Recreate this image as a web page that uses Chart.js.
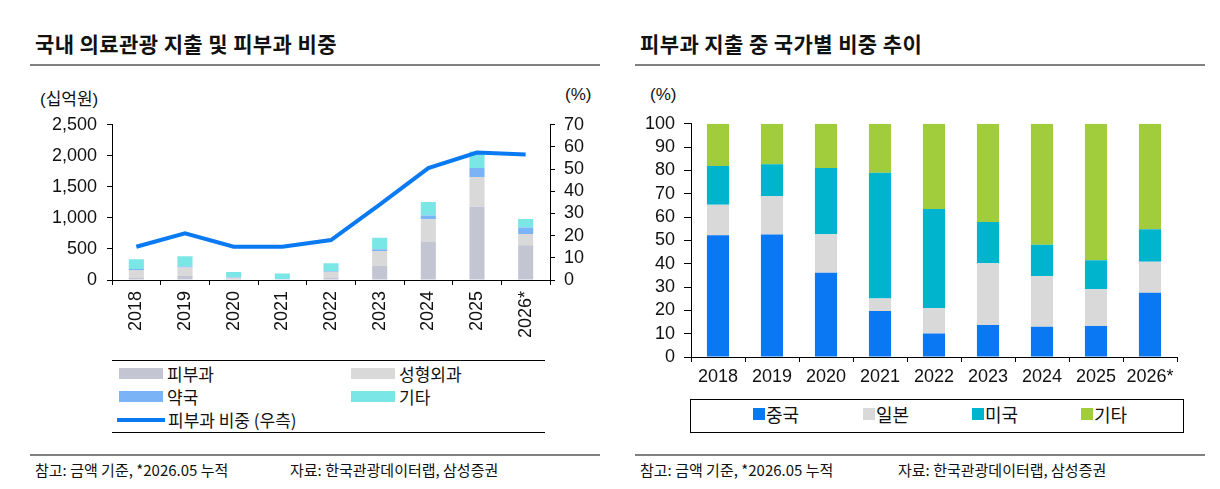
<!DOCTYPE html>
<html>
<head>
<meta charset="utf-8">
<script src="https://cdn.jsdelivr.net/npm/chart.js@4.4.1/dist/chart.umd.min.js"></script>
<style>
  body { margin: 0; background: #fff; width: 1220px; height: 489px; position: relative; overflow: hidden;
         font-family: "Noto Sans CJK KR", "Liberation Sans", sans-serif; color: #111; }
  .abs { position: absolute; }
  .title { font-size: 21px; font-weight: bold; top: 28px; white-space: nowrap; letter-spacing: 0.4px; }
  .rule { height: 2px; background: #808080; }
  .note { font-size: 15px; top: 459px; white-space: nowrap; }
  .unit { font-family: "Liberation Sans", "Noto Sans CJK KR", sans-serif; font-size: 17px; top: 85px; }
  .lg { font-size: 17px; display: flex; align-items: center; white-space: nowrap; }
  .lgbox { position: absolute; }
</style>
</head>
<body>
<div class="abs title" style="left:35px">국내 의료관광 지출 및 피부과 비중</div>
<div class="abs title" style="left:640px">피부과 지출 중 국가별 비중 추이</div>
<div class="abs rule" style="left:30px;top:64px;width:570px"></div>
<div class="abs rule" style="left:635px;top:64px;width:570px"></div>

<div class="abs unit" style="left:40px">(십억원)</div>
<div class="abs unit" style="left:565px">(%)</div>
<div class="abs unit" style="left:650px">(%)</div>

<div class="abs" style="left:20px;top:104px;width:590px;height:251px"><canvas id="left"></canvas></div>
<div class="abs" style="left:630px;top:104px;width:590px;height:286px"><canvas id="right"></canvas></div>

<div id="legendLeft" class="abs" style="left:112px;top:360px;width:433px;height:71px;border-top:1.5px solid #000;border-bottom:1.5px solid #000"></div>
<div id="legendRight" class="abs" style="left:690px;top:399px;width:492px;height:32px;border:1.5px solid #000"></div>

<div class="abs rule" style="left:30px;top:454px;width:570px"></div>
<div class="abs rule" style="left:635px;top:454px;width:570px"></div>
<div class="abs note" style="left:35px">참고: 금액 기준, *2026.05 누적</div>
<div class="abs note" style="left:290px">자료: 한국관광데이터랩, 삼성증권</div>
<div class="abs note" style="left:640px">참고: 금액 기준, *2026.05 누적</div>
<div class="abs note" style="left:898px">자료: 한국관광데이터랩, 삼성증권</div>

<script>
// 카테고리
const years = ['2018', '2019', '2020', '2021', '2022', '2023', '2024', '2025', '2026*'];

// 왼쪽: 국내 의료관광 지출 (십억원)
const derm = [32, 64, 15, 8, 32, 229, 622, 1181, 559];
const plastic = [128, 138, 22, 5, 101, 239, 357, 479, 180];
const pharmacy = [16, 16, 8, 3, 11, 27, 58, 143, 107];
const etcSpend = [159, 165, 83, 90, 127, 186, 219, 266, 138];
const dermShare = [15, 21, 15, 15, 18, 34, 50.5, 57.5, 56.6];
const leftTicks = [0, 500, 1000, 1500, 2000, 2500];
const shareTicks = [0, 10, 20, 30, 40, 50, 60, 70];

// 오른쪽: 피부과 지출 중 국가별 비중 (%)
const china = [52.2, 52.5, 36.1, 19.7, 10.1, 13.7, 13.0, 13.3, 27.5];
const japan = [13.1, 16.5, 16.5, 5.4, 10.9, 26.5, 21.7, 15.8, 13.3];
const usa = [16.6, 13.7, 28.4, 53.9, 42.5, 17.7, 13.4, 12.4, 14.0];
const etcShare = [18.1, 17.3, 19.0, 21.0, 36.5, 42.1, 51.9, 58.5, 45.2];
const pctTicks = [0, 10, 20, 30, 40, 50, 60, 70, 80, 90, 100];

const numFont = { family: '"Liberation Sans", Arial, sans-serif', size: 18 };
const axisGrid = (len) => ({ drawOnChartArea: false, tickLength: len, color: '#000', lineWidth: 1 });
const fixTicks = (list) => (scale) => { scale.ticks = list.map(v => ({ value: v })); };

const leftChart = new Chart(document.getElementById('left'), {
    type: 'bar',
    data: {
        labels: years,
        datasets: [
            { type: 'line', label: '피부과 비중 (우측)', data: dermShare, yAxisID: 'y1', borderColor: '#0a7af2',
              backgroundColor: '#0a7af2', borderWidth: 4, pointRadius: 0, tension: 0, order: 0 },
            { label: '피부과', data: derm, backgroundColor: '#c3c5d3', stack: 's', order: 1 },
            { label: '성형외과', data: plastic, backgroundColor: '#d9d9d9', stack: 's', order: 1 },
            { label: '약국', data: pharmacy, backgroundColor: '#7bb4f6', stack: 's', order: 1 },
            { label: '기타', data: etcSpend, backgroundColor: '#7ae6e6', stack: 's', order: 1 }
        ]
    },
    options: {
        responsive: true,
        maintainAspectRatio: false,
        animation: false,
        layout: { padding: { top: 7, left: 0, right: 0, bottom: 0 } },
        datasets: { bar: { barPercentage: 0.31, categoryPercentage: 1 } },
        plugins: { legend: { display: false }, tooltip: { enabled: false } },
        scales: {
            x: {
                stacked: true,
                grid: axisGrid(5),
                border: { color: '#000' },
                ticks: { font: numFont, color: '#111', minRotation: 90, maxRotation: 90, padding: 6 },
                afterFit: (s) => { s.height = 75; }
            },
            y: {
                stacked: true, min: 0, max: 2500,
                grid: axisGrid(5),
                border: { color: '#000' },
                ticks: { font: numFont, color: '#111', padding: 10, autoSkip: false,
                         callback: (v) => v.toLocaleString('en-US') },
                afterBuildTicks: fixTicks(leftTicks),
                afterFit: (s) => { s.width = 92; }
            },
            y1: {
                position: 'right', min: 0, max: 70,
                grid: axisGrid(5),
                border: { color: '#000' },
                ticks: { font: numFont, color: '#111', padding: 9, autoSkip: false },
                afterBuildTicks: fixTicks(shareTicks),
                afterFit: (s) => { s.width = 60; }
            }
        }
    }
});

const rightChart = new Chart(document.getElementById('right'), {
    type: 'bar',
    data: {
        labels: years,
        datasets: [
            { label: '중국', data: china, backgroundColor: '#0a78f2' },
            { label: '일본', data: japan, backgroundColor: '#d9d9d9' },
            { label: '미국', data: usa, backgroundColor: '#00b4cd' },
            { label: '기타', data: etcShare, backgroundColor: '#a1cd3c' }
        ]
    },
    options: {
        responsive: true,
        maintainAspectRatio: false,
        animation: false,
        layout: { padding: { top: 7, left: 0, right: 43, bottom: 0 } },
        datasets: { bar: { barPercentage: 0.41, categoryPercentage: 1 } },
        plugins: { legend: { display: false }, tooltip: { enabled: false } },
        scales: {
            x: {
                stacked: true,
                grid: axisGrid(5),
                border: { color: '#000' },
                ticks: { font: numFont, color: '#111', maxRotation: 0, padding: 4 },
                afterFit: (s) => { s.height = 33; }
            },
            y: {
                stacked: true, min: 0, max: 100,
                grid: axisGrid(7),
                border: { color: '#000' },
                ticks: { font: numFont, color: '#111', padding: 9, autoSkip: false },
                afterBuildTicks: fixTicks(pctTicks),
                afterFit: (s) => { s.width = 61; }
            }
        }
    }
});

// 범례 (차트 데이터셋에서 생성)
function item(ds, x, y, swatch) {
    const d = document.createElement('div');
    d.className = 'lg lgbox';
    d.style.left = x + 'px';
    d.style.top = y + 'px';
    const sw = document.createElement('span');
    sw.style.display = 'inline-block';
    sw.style.width = swatch[0] + 'px';
    sw.style.height = swatch[1] + 'px';
    sw.style.background = ds.type === 'line' ? ds.borderColor : ds.backgroundColor;
    sw.style.marginRight = swatch[2] + 'px';
    d.appendChild(sw);
    d.appendChild(document.createTextNode(ds.label));
    return d;
}

const ll = document.getElementById('legendLeft');
const lds = leftChart.data.datasets;
ll.appendChild(item(lds[1], 7, 0, [44, 11, 4]));
ll.appendChild(item(lds[2], 239, 0, [44, 11, 4]));
ll.appendChild(item(lds[3], 7, 23, [44, 11, 4]));
ll.appendChild(item(lds[4], 239, 23, [44, 11, 4]));
ll.appendChild(item(lds[0], 5, 46, [48, 4, 3]));

const lr = document.getElementById('legendRight');
const rds = rightChart.data.datasets;
const rx = [62, 172, 281, 390];
rds.forEach((ds, i) => {
    const el = item(ds, rx[i], 1, [12, 12, 1]);
    el.style.fontSize = '18px';
    lr.appendChild(el);
});
</script>
</body>
</html>
